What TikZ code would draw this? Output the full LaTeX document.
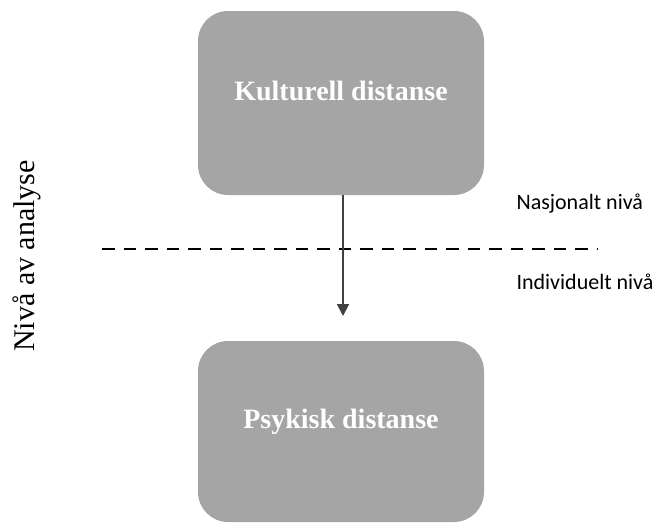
\documentclass[tikz,border=0pt]{standalone}
\usepackage{fontspec}
\setmainfont{Liberation Serif}
\newfontfamily\levelfont{Carlito}
\usetikzlibrary{arrows.meta}
\definecolor{boxgray}{RGB}{165,165,165}
\definecolor{arrowgray}{RGB}{64,64,64}

\begin{document}
\begin{tikzpicture}[
    x=1pt, y=-1pt,
    distbox/.style={rectangle, rounded corners=30pt, fill=boxgray, text=white,
      minimum width=286pt, minimum height=184pt,
      font=\fontsize{28}{32}\selectfont\bfseries,
      text height=20pt, text depth=26pt},
    levellabel/.style={anchor=base west, font=\levelfont\fontsize{22}{26}\selectfont},
    levelline/.style={line width=2.7pt, dash pattern=on 12.5pt off 9pt},
    arrowline/.style={draw=arrowgray, line width=1.8pt,
      -{Triangle[length=12pt, width=12pt]}}
    ]
	\useasboundingbox (0,0) rectangle (653,523);
	\node [distbox] (kultur) at (341,103) {Kulturell distanse};
	\node [distbox, minimum height=181pt] (psyk) at (341,431.5) {Psykisk distanse};
	\node [rotate=90, anchor=base, font=\fontsize{30}{34}\selectfont] (niva) at (34,256) {Nivå av analyse};
	\node [levellabel] (nasjonalt) at (513,209) {Nasjonalt nivå};
	\node [levellabel] (individuelt) at (513,289) {Individuelt nivå};
	% skillelinje mellom nivåene
	\coordinate (linestart) at (102,249);
	\coordinate (lineend) at (598,249);
	\draw [levelline] (linestart) -- (lineend);
	\coordinate (tip) at (343,316);
	\draw [arrowline] ([xshift=2pt]kultur.south) -- (tip);
\end{tikzpicture}
\end{document}
